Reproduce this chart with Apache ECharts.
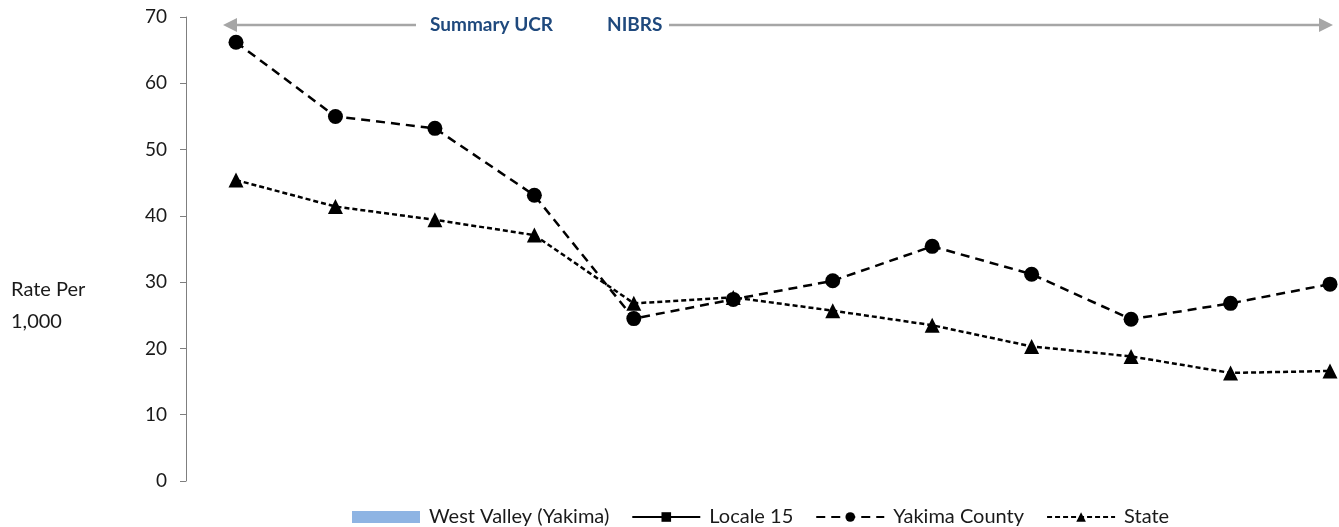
<!DOCTYPE html>
<html>
<head>
<meta charset="utf-8">
<title>Rate Per 1,000</title>
<script src="https://cdn.jsdelivr.net/npm/echarts@6/dist/echarts.min.js"></script>
<style>
  html, body { margin: 0; padding: 0; background: #ffffff; }
  #chart { width: 1339px; height: 527px; }
</style>
</head>
<body>
<div id="chart"></div>
<script>
// Twelve reporting years; the axis carries no visible labels
const categories = ['Y1', 'Y2', 'Y3', 'Y4', 'Y5', 'Y6', 'Y7', 'Y8', 'Y9', 'Y10', 'Y11', 'Y12'];

// Rates per 1,000
const westValley = [];
const locale15 = [];
const yakimaCounty = [66.2, 55.0, 53.2, 43.1, 24.5, 27.4, 30.2, 35.4, 31.2, 24.4, 26.8, 29.7];
const stateRate = [45.4, 41.4, 39.4, 37.1, 26.8, 27.7, 25.7, 23.5, 20.3, 18.8, 16.3, 16.6];

const yTicks = { min: 0, max: 70, interval: 10 };

const FONT = 'Lato, "Open Sans", sans-serif';
const chart = echarts.init(document.getElementById('chart'));

const arrowGray = '#a6a6a6';
const noteBlue = '#1f497d';
const arrowY = 25;

chart.setOption({
  animation: false,
  textStyle: { fontFamily: FONT },
  grid: { left: 236, top: 17, right: 9, bottom: 46, containLabel: false },
  xAxis: {
    type: 'category',
    data: categories,
    boundaryGap: false,
    axisLine: { show: false },
    axisTick: { show: false },
    axisLabel: { show: false },
    splitLine: { show: false }
  },
  yAxis: {
    type: 'value',
    min: yTicks.min,
    max: yTicks.max,
    interval: yTicks.interval,
    offset: 50,
    axisLine: { show: true, lineStyle: { color: '#7f7f7f', width: 1 } },
    axisTick: { show: true, inside: false, length: 6, lineStyle: { color: '#7f7f7f' } },
    axisLabel: { color: '#1a1a1a', fontSize: 19, fontFamily: FONT, margin: 19 },
    splitLine: { show: false }
  },
  legend: {
    left: 347,
    top: 502,
    itemWidth: 68,
    itemHeight: 12,
    itemGap: 22,
    textStyle: { color: '#1a1a1a', fontSize: 20, fontFamily: FONT, padding: [0, 0, 0, 4] },
    data: [
      { name: 'West Valley (Yakima)', icon: 'rect' },
      { name: 'Locale 15' },
      { name: 'Yakima County' },
      { name: 'State' }
    ]
  },
  series: [
    {
      name: 'West Valley (Yakima)',
      type: 'bar',
      data: westValley,
      itemStyle: { color: '#8eb4e3' }
    },
    {
      name: 'Locale 15',
      type: 'line',
      data: locale15,
      symbol: 'rect',
      symbolSize: 11,
      itemStyle: { color: '#000000' },
      lineStyle: { color: '#000000', width: 2.5, type: 'solid' }
    },
    {
      name: 'Yakima County',
      type: 'line',
      data: yakimaCounty,
      symbol: 'circle',
      symbolSize: 15,
      itemStyle: { color: '#000000' },
      lineStyle: { color: '#000000', width: 2.5, type: [9, 6] }
    },
    {
      name: 'State',
      type: 'line',
      data: stateRate,
      symbol: 'triangle',
      symbolSize: 15,
      itemStyle: { color: '#000000' },
      lineStyle: { color: '#000000', width: 2.5, type: [5, 3] }
    }
  ],
  graphic: [
    // axis title
    {
      type: 'text', left: 11, top: 274,
      style: { text: 'Rate Per\n1,000', fontSize: 20, lineHeight: 32, fill: '#1a1a1a', fontFamily: FONT }
    },
    // reporting-system span arrow
    {
      type: 'line',
      shape: { x1: 233, y1: arrowY, x2: 416, y2: arrowY },
      style: { stroke: arrowGray, lineWidth: 2.5 }
    },
    {
      type: 'polygon',
      shape: { points: [[223, arrowY], [237, arrowY - 7], [237, arrowY + 7]] },
      style: { fill: arrowGray }
    },
    {
      type: 'line',
      shape: { x1: 669, y1: arrowY, x2: 1320, y2: arrowY },
      style: { stroke: arrowGray, lineWidth: 2.5 }
    },
    {
      type: 'polygon',
      shape: { points: [[1333, arrowY], [1319, arrowY - 7], [1319, arrowY + 7]] },
      style: { fill: arrowGray }
    },
    {
      type: 'text', left: 430, top: 15,
      style: { text: 'Summary UCR', fontSize: 19, fontWeight: 'bold', fill: noteBlue, fontFamily: FONT }
    },
    {
      type: 'text', left: 607, top: 15,
      style: { text: 'NIBRS', fontSize: 19, fontWeight: 'bold', fill: noteBlue, fontFamily: FONT }
    }
  ]
});
</script>
</body>
</html>
